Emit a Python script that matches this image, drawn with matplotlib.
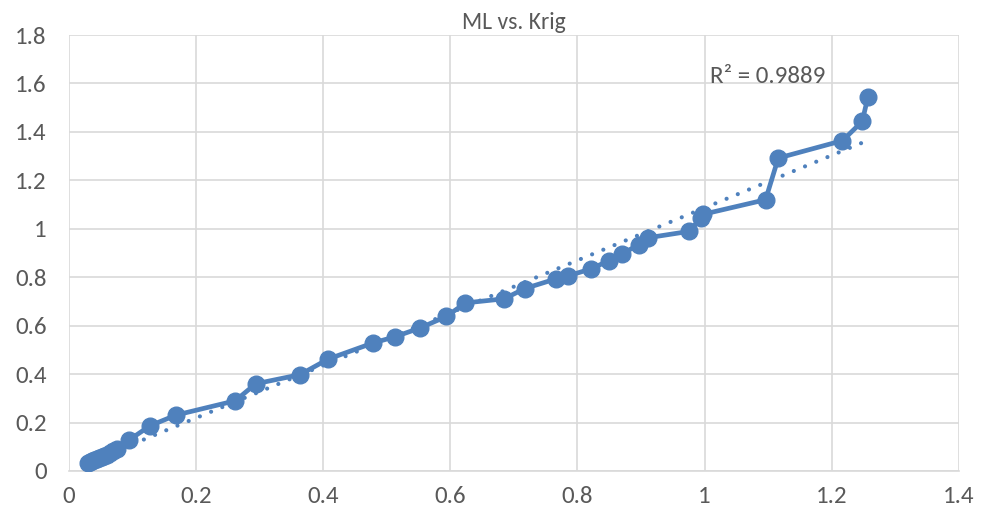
import numpy as np
import matplotlib.pyplot as plt

# values
krig = [0.030, 0.033, 0.036, 0.040, 0.044, 0.048, 0.052, 0.056, 0.060, 0.065,
        0.070, 0.076, 0.095, 0.128, 0.169, 0.262, 0.294, 0.364, 0.408, 0.479,
        0.513, 0.553, 0.594, 0.624, 0.685, 0.717, 0.766, 0.786, 0.822, 0.849,
        0.870, 0.897, 0.911, 0.975, 0.995, 0.998, 1.096, 1.116, 1.217, 1.248,
        1.257]
ml = [0.034, 0.038, 0.041, 0.045, 0.049, 0.053, 0.057, 0.061, 0.067, 0.074,
      0.082, 0.092, 0.128, 0.187, 0.231, 0.290, 0.360, 0.398, 0.462, 0.529,
      0.554, 0.591, 0.638, 0.694, 0.711, 0.753, 0.793, 0.806, 0.835, 0.868,
      0.897, 0.934, 0.963, 0.989, 1.045, 1.060, 1.120, 1.292, 1.364, 1.443,
      1.544]
r2_label = 'R² = 0.9889'

blue = '#4F81BD'
grey = '#595959'

plt.rcParams['font.family'] = ['Carlito', 'Liberation Sans Narrow', 'Liberation Sans', 'DejaVu Sans']

fig = plt.figure(figsize=(9.89, 5.19), dpi=100)
ax = fig.add_axes([0.0695, 0.0925, 0.9, 0.84])

ax.plot(krig, ml, color=blue, lw=3.4, marker='o', ms=12, zorder=3)

# linear trendline, as Excel draws it over the data range
k = np.array(krig)
m, b = np.polyfit(k, np.array(ml), 1)
xt = np.array([k.min(), k.max()])
ax.plot(xt, m * xt + b, color=blue, lw=3, ls=(0, (0.01, 2.9)), dash_capstyle='round', zorder=2)
ax.text(1.008, 1.60, r2_label, fontsize=18, color=grey, ha='left', va='baseline')

ax.set_xlim(0, 1.4)
ax.set_ylim(0, 1.8)
ax.set_xticks(np.arange(0, 1.41, 0.2))
ax.set_yticks(np.arange(0, 1.81, 0.2))
ax.set_xticklabels(['0', '0.2', '0.4', '0.6', '0.8', '1', '1.2', '1.4'])
ax.set_yticklabels(['0', '0.2', '0.4', '0.6', '0.8', '1', '1.2', '1.4', '1.6', '1.8'])
ax.grid(True, color='#D9D9D9', lw=1.2)
ax.set_axisbelow(True)
for s in ['top', 'right', 'left']:
    ax.spines[s].set_visible(False)
ax.spines['bottom'].set_color('#D9D9D9')
ax.spines['bottom'].set_linewidth(1.2)
ax.tick_params(axis='y', length=0, labelsize=18, colors=grey, pad=16)
ax.tick_params(axis='x', length=0, labelsize=18, colors=grey, pad=11)
ax.set_title('ML vs. Krig', fontsize=17, color=grey, pad=4)

fig.savefig('out.png', dpi=100)
